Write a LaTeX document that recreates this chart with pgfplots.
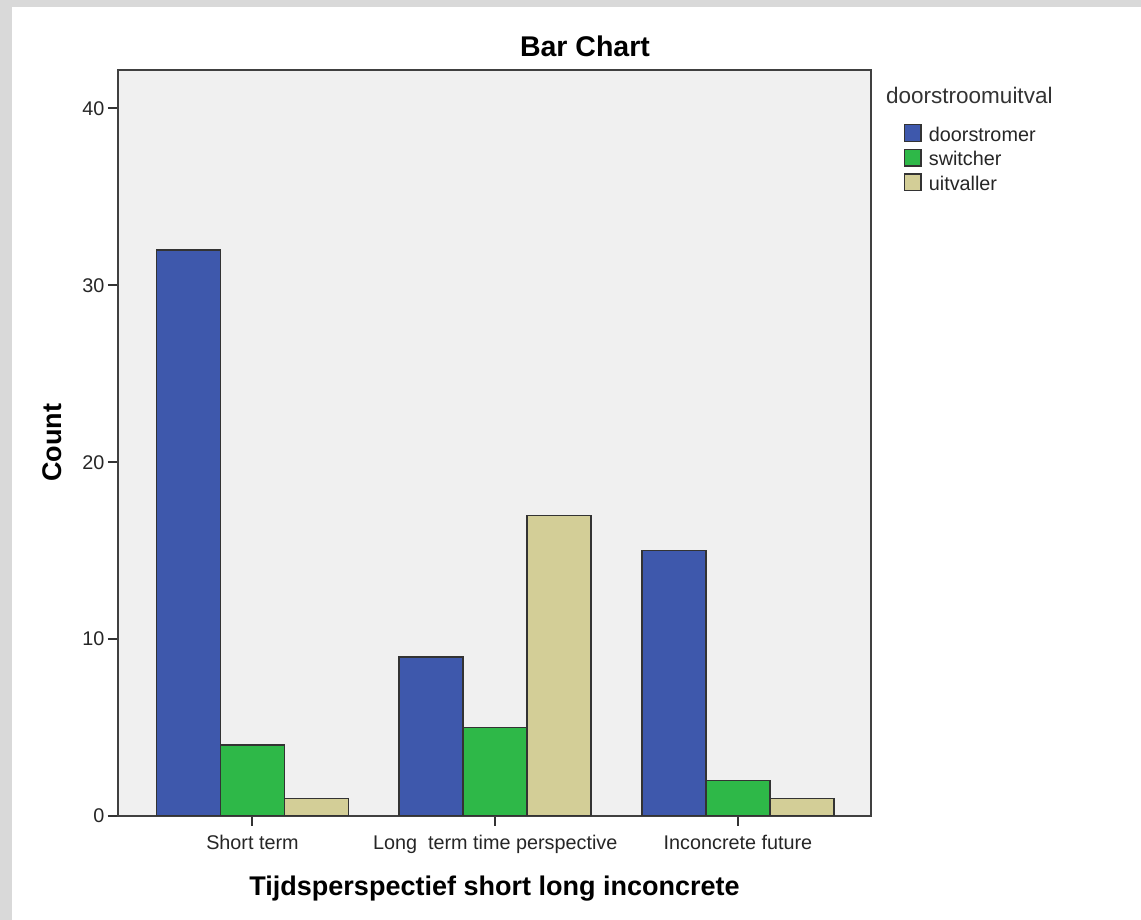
\documentclass[border=0pt]{standalone}
\usepackage{fontspec}
\setmainfont{Liberation Sans}
\usepackage{pgfplots}
\pgfplotsset{compat=1.18}
\definecolor{barblue}{HTML}{3E58AC}
\definecolor{bargreen}{HTML}{2EB848}
\definecolor{bartan}{HTML}{D3CE97}
\definecolor{plotbg}{HTML}{F0F0F0}
\definecolor{framegray}{HTML}{D9D9D9}
\pgfplotsset{
  swatch/.style={legend image code/.code={\draw[##1, line width=1.4pt] (0pt,0pt) rectangle (16.5pt,16.5pt);}},
}
\begin{document}
\begin{tikzpicture}
\fill[framegray] (0pt,0pt) rectangle (1141pt,920pt);
\fill[white] (12pt,0pt) rectangle (1141pt,913pt);
\node[font=\fontsize{28.5}{32}\selectfont\bfseries, anchor=base, inner sep=0pt] at (585pt,863pt) {Bar Chart};
\node[font=\fontsize{22.5}{26}\selectfont, text=black!80, anchor=base west, inner sep=0pt] at (886pt,816pt) {doorstroomuitval};
\begin{axis}[
  at={(118pt,104pt)}, anchor=south west,
  scale only axis, width=753pt, height=746pt,
  xmin=-0.554, xmax=2.548, ymin=0, ymax=42.17,
  axis background/.style={fill=plotbg},
  axis line style={draw=black!75, line width=1.5pt},
  xtick={0,1,2},
  xticklabels={Short term, Long\ \ term time perspective, Inconcrete future},
  ytick={0,10,20,30,40},
  tick pos=left, tick align=outside, major tick length=10pt,
  major tick style={draw=black!80, line width=2pt},
  ticklabel style={font=\fontsize{19.8}{22}\selectfont, text=black!85},
  xticklabel style={yshift=-6pt},
  /pgf/number format/assume math mode=true,
  xlabel={Tijdsperspectief short long inconcrete},
  xlabel style={font=\fontsize{27}{30}\selectfont\bfseries, at={(axis description cs:0.5,-0.106)}, anchor=base, inner sep=0pt},
  ylabel={Count},
  ylabel style={font=\fontsize{27}{30}\selectfont\bfseries, at={(axis description cs:-0.0744,0.5)}, anchor=base, inner sep=0pt},
  legend cell align=left,
  legend style={at={(axis description cs:1.0438,0.9276)}, anchor=north west, draw=none, fill=none,
    inner sep=0pt, outer sep=0pt, font=\fontsize{19.8}{22}\selectfont, text=black!85,
    nodes={inner sep=0pt}, cells={anchor=base west},
    row sep={24.7pt,between origins}, column sep=7pt},
]
\addplot[ybar, bar width=64pt, bar shift=-64pt, fill=barblue, draw=black!80, line width=1.5pt, swatch]
  coordinates {(0,32) (1,9) (2,15)};
\addlegendentry{doorstromer}
\addplot[ybar, bar width=64pt, bar shift=0pt, fill=bargreen, draw=black!80, line width=1.5pt, swatch]
  coordinates {(0,4) (1,5) (2,2)};
\addlegendentry{switcher}
\addplot[ybar, bar width=64pt, bar shift=64pt, fill=bartan, draw=black!80, line width=1.5pt, swatch]
  coordinates {(0,1) (1,17) (2,1)};
\addlegendentry{uitvaller}
\end{axis}
\end{tikzpicture}
\end{document}
